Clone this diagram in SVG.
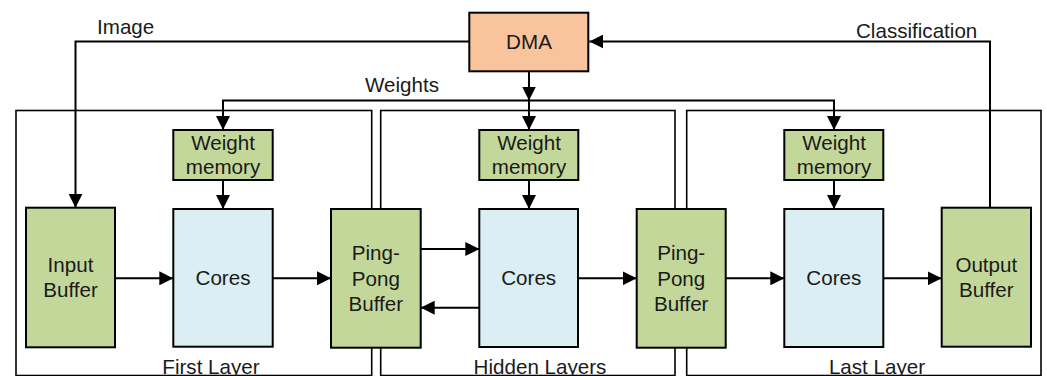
<svg xmlns="http://www.w3.org/2000/svg" width="1047" height="376" viewBox="0 0 1047 376">
  <defs>
    <marker id="arrow" markerUnits="userSpaceOnUse" markerWidth="14" markerHeight="14" refX="14" refY="7" orient="auto">
      <path d="M0,0 L14,7 L0,14 z" fill="#000"/>
    </marker>
  </defs>
  <style>
    text { font-family: "Liberation Sans", Arial, sans-serif; font-size: 20.6px; fill: #1a1a1a; text-anchor: middle; }
    .layer { fill: none; stroke: #000; stroke-width: 1.6; }
    .box { stroke: #000; stroke-width: 2; }
    .green { fill: #C4D79B; }
    .blue { fill: #DBEEF4; }
    .peach { fill: #F9C49B; }
    .wire { fill: none; stroke: #000; stroke-width: 2; }
    .arr { marker-end: url(#arrow); }
    .lbl { text-anchor: start; }
  </style>

  <!-- layer frames -->
  <g id="first-layer">
    <rect class="layer" x="16" y="110.5" width="355.7" height="265"/>
    <text x="211" y="373.5">First Layer</text>
  </g>
  <g id="hidden-layers">
    <rect class="layer" x="380.7" y="110.5" width="294.3" height="265"/>
    <text x="540" y="373.5">Hidden Layers</text>
  </g>
  <g id="last-layer">
    <rect class="layer" x="686.7" y="110.5" width="354.3" height="265"/>
    <text x="877" y="373.5">Last Layer</text>
  </g>

  <!-- connectors -->
  <g id="connectors">
    <!-- image path from DMA to input buffer -->
    <polyline class="wire arr" points="469.3,41.5 75.5,41.5 75.5,207.7"/>
    <!-- classification result back to DMA -->
    <polyline class="wire arr" points="990,207.7 990,41.5 589.3,41.5"/>
    <!-- weights distribution -->
    <line class="wire arr" x1="529" y1="71.3" x2="529" y2="100.5"/>
    <polyline class="wire" points="223,130 223,100.5 834,100.5 834,130"/>
    <line class="wire arr" x1="223" y1="100.5" x2="223" y2="130"/>
    <line class="wire arr" x1="529" y1="100.5" x2="529" y2="130"/>
    <line class="wire arr" x1="834" y1="100.5" x2="834" y2="130"/>
    <!-- weight memory to cores -->
    <line class="wire arr" x1="223" y1="180" x2="223" y2="209"/>
    <line class="wire arr" x1="529" y1="180" x2="529" y2="209"/>
    <line class="wire arr" x1="834" y1="180" x2="834" y2="209"/>
    <!-- data path -->
    <line class="wire arr" x1="115" y1="278.3" x2="173.3" y2="278.3"/>
    <line class="wire arr" x1="272.7" y1="278.3" x2="331" y2="278.3"/>
    <line class="wire arr" x1="420.7" y1="249" x2="479.3" y2="249"/>
    <line class="wire arr" x1="479.3" y1="307.7" x2="420.7" y2="307.7"/>
    <line class="wire arr" x1="578" y1="278.3" x2="636.7" y2="278.3"/>
    <line class="wire arr" x1="725.7" y1="278.3" x2="784.3" y2="278.3"/>
    <line class="wire arr" x1="883.3" y1="278.3" x2="941.7" y2="278.3"/>
    <!-- connector labels -->
    <text class="lbl" x="97" y="33.5">Image</text>
    <text class="lbl" x="365" y="92">Weights</text>
    <text class="lbl" x="856" y="38">Classification</text>
  </g>

  <g id="dma">
    <rect class="box peach" x="469.3" y="12.7" width="119" height="58.6"/>
    <text x="529" y="48.5">DMA</text>
  </g>

  <g id="weight-memory-1">
    <rect class="box green" x="173.3" y="130" width="99.4" height="50"/>
    <text x="223" y="149.5">Weight</text>
    <text x="223" y="173.5">memory</text>
  </g>
  <g id="weight-memory-2">
    <rect class="box green" x="479.3" y="130" width="99" height="50"/>
    <text x="529" y="149.5">Weight</text>
    <text x="529" y="173.5">memory</text>
  </g>
  <g id="weight-memory-3">
    <rect class="box green" x="784.3" y="130" width="99" height="50"/>
    <text x="834" y="149.5">Weight</text>
    <text x="834" y="173.5">memory</text>
  </g>

  <g id="input-buffer">
    <rect class="box green" x="26" y="207.7" width="89" height="139.6"/>
    <text x="70.5" y="272">Input</text>
    <text x="70.5" y="297">Buffer</text>
  </g>
  <g id="cores-1">
    <rect class="box blue" x="173.3" y="209" width="99.4" height="137.7"/>
    <text x="223" y="285">Cores</text>
  </g>
  <g id="ping-pong-1">
    <rect class="box green" x="331" y="209" width="89.7" height="138.7"/>
    <text x="375.8" y="260">Ping-</text>
    <text x="375.8" y="285.5">Pong</text>
    <text x="375.8" y="310.5">Buffer</text>
  </g>
  <g id="cores-2">
    <rect class="box blue" x="479.3" y="209" width="98.7" height="138"/>
    <text x="528.7" y="285">Cores</text>
  </g>
  <g id="ping-pong-2">
    <rect class="box green" x="636.7" y="209" width="89" height="138.7"/>
    <text x="681.2" y="260">Ping-</text>
    <text x="681.2" y="285.5">Pong</text>
    <text x="681.2" y="310.5">Buffer</text>
  </g>
  <g id="cores-3">
    <rect class="box blue" x="784.3" y="209" width="99" height="138"/>
    <text x="833.8" y="285">Cores</text>
  </g>
  <g id="output-buffer">
    <rect class="box green" x="941.7" y="207.7" width="89.3" height="139"/>
    <text x="986.3" y="272">Output</text>
    <text x="986.3" y="297">Buffer</text>
  </g>
</svg>
